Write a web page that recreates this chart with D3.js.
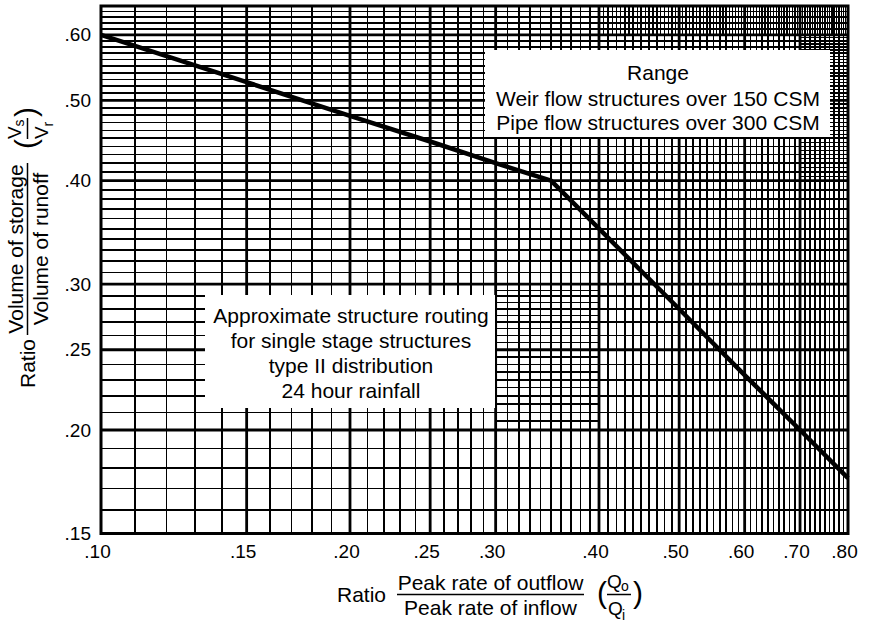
<!DOCTYPE html>
<html><head><meta charset="utf-8">
<script src="https://cdn.jsdelivr.net/npm/d3@7"></script>
<style>html,body{margin:0;padding:0;background:#fff;} svg{display:block;}</style>
</head><body>
<svg id="chart" width="869" height="627"></svg>
<script>
// ---- data ----
const xTickValues = [0.10, 0.15, 0.20, 0.25, 0.30, 0.40, 0.50, 0.60, 0.70, 0.80];
const xTickLabels = [".10", ".15", ".20", ".25", ".30", ".40", ".50", ".60", ".70", ".80"];
const yTickValues = [0.15, 0.20, 0.25, 0.30, 0.40, 0.50, 0.60];
const yTickLabels = [".15", ".20", ".25", ".30", ".40", ".50", ".60"];
const peakRatio = [0.10, 0.15, 0.20, 0.25, 0.30, 0.35, 0.40, 0.50, 0.60, 0.70, 0.80];
const storageRatio = [0.600, 0.526, 0.479, 0.446, 0.420, 0.400, 0.350, 0.280, 0.233, 0.200, 0.175];
const rangeNote = ["Range", "Weir flow structures over 150 CSM", "Pipe flow structures over 300 CSM"];
const routingNote = ["Approximate structure routing", "for single stage structures", "type II distribution", "24 hour rainfall"];
const xMajorGrid = [0.15, 0.20, 0.25, 0.30, 0.40, 0.50, 0.60, 0.70];
const yMajorGrid = [0.20, 0.25, 0.30, 0.40, 0.50, 0.60];

// ---- layout ----
const FONT = "'Liberation Sans', Arial, Helvetica, sans-serif";
const L = 101, R = 848, T = 6, B = 533.5;
const x = d3.scaleLog().domain([0.10, 0.80]).range([L, R]);
const y = d3.scaleLog().domain([0.15, 0.65]).range([B, T]);

const svg = d3.select("#chart");
svg.append("rect").attr("width", 869).attr("height", 627).attr("fill", "#fff");

const grid = svg.append("g").attr("stroke", "#000").attr("shape-rendering", "crispEdges");
const r3 = v => Math.round(v * 1000) / 1000;
const xMinor = d3.range(11, 80).map(i => r3(i / 100));
const yMinor = d3.range(16, 65).map(i => r3(i / 100));
const halfSteps = (a, b) => d3.range(Math.round(a * 200) + 1, Math.round(b * 200), 2).map(i => r3(i / 200));

// minor vertical lines
grid.selectAll("line.vx").data(xMinor).join("line")
  .attr("x1", d => x(d)).attr("x2", d => x(d)).attr("y1", T).attr("y2", B)
  .attr("stroke-width", 1.7);
// minor horizontal lines
grid.selectAll("line.hy").data(yMinor).join("line")
  .attr("x1", L).attr("x2", R).attr("y1", d => y(d)).attr("y2", d => y(d))
  .attr("stroke-width", 1.7);
// finer half-step lines in some blocks of the paper
const fineV = [{x0: 0.40, x1: 0.80, y0: 0.60, y1: 0.65}];
const fineH = [{x0: 0.30, x1: 0.40, y0: 0.20, y1: 0.30}, {x0: 0.70, x1: 0.80, y0: 0.40, y1: 0.60}];
fineV.forEach(b => {
  grid.append("g").selectAll("line").data(halfSteps(b.x0, b.x1)).join("line")
    .attr("x1", d => x(d)).attr("x2", d => x(d)).attr("y1", y(b.y1)).attr("y2", y(b.y0))
    .attr("stroke-width", 1.3);
});
fineH.forEach(b => {
  grid.append("g").selectAll("line").data(halfSteps(b.y0, b.y1)).join("line")
    .attr("x1", x(b.x0)).attr("x2", x(b.x1)).attr("y1", d => y(d)).attr("y2", d => y(d))
    .attr("stroke-width", 1.3);
});
// major lines
const major = svg.append("g").attr("stroke", "#000");
major.selectAll("line.mx").data(xMajorGrid).join("line")
  .attr("x1", d => x(d)).attr("x2", d => x(d)).attr("y1", T).attr("y2", B)
  .attr("stroke-width", 2.8);
major.selectAll("line.my").data(yMajorGrid).join("line")
  .attr("x1", L).attr("x2", R).attr("y1", d => y(d)).attr("y2", d => y(d))
  .attr("stroke-width", 2.8);
// frame
svg.append("rect").attr("x", L).attr("y", T).attr("width", R - L).attr("height", B - T)
  .attr("fill", "none").attr("stroke", "#000").attr("stroke-width", 3);

// curve
const pts = peakRatio.map((v, i) => [v, storageRatio[i]]);
svg.append("path").datum(pts)
  .attr("d", d3.line().x(d => x(d[0])).y(d => y(d[1])))
  .attr("fill", "none").attr("stroke", "#000").attr("stroke-width", 4.5)
  .attr("stroke-linejoin", "round");

// note boxes
svg.append("rect").attr("x", 485).attr("y", 50).attr("width", 345).attr("height", 87).attr("fill", "#fff");
svg.append("rect").attr("x", 205).attr("y", 295).attr("width", 290).attr("height", 113).attr("fill", "#fff");
const txt = svg.append("g").attr("font-family", FONT).attr("fill", "#000");
const rangeBase = [80, 105.5, 130];
txt.selectAll("text.rn").data(rangeNote).join("text")
  .attr("x", 658).attr("y", (d, i) => rangeBase[i]).attr("text-anchor", "middle")
  .attr("font-size", 21).text(d => d);
txt.selectAll("text.rt").data(routingNote).join("text")
  .attr("x", 351).attr("y", (d, i) => 323.3 + i * 25).attr("text-anchor", "middle")
  .attr("font-size", 21).text(d => d);

// axes
const xAxis = svg.append("g").attr("transform", `translate(0,${B})`)
  .call(d3.axisBottom(x).tickValues(xTickValues).tickFormat((d, i) => xTickLabels[i]).tickSize(0).tickPadding(11));
xAxis.select(".domain").remove();
xAxis.selectAll("text").attr("font-family", FONT).attr("font-size", 19).attr("fill", "#000").attr("dx", -4);
const yAxis = svg.append("g").attr("transform", `translate(${L},0)`)
  .call(d3.axisLeft(y).tickValues(yTickValues).tickFormat((d, i) => yTickLabels[i]).tickSize(0).tickPadding(10));
yAxis.select(".domain").remove();
yAxis.selectAll("text").attr("font-family", FONT).attr("font-size", 19).attr("fill", "#000");

// x title
const xt = svg.append("g").attr("font-family", FONT).attr("fill", "#000");
const xb = 594.5;
xt.append("text").attr("x", 337).attr("y", xb + 7.5).attr("font-size", 21).text("Ratio");
xt.append("text").attr("x", 490.5).attr("y", xb - 4.5).attr("text-anchor", "middle").attr("font-size", 21).text("Peak rate of outflow");
xt.append("line").attr("x1", 397).attr("x2", 584).attr("y1", xb).attr("y2", xb).attr("stroke", "#000").attr("stroke-width", 1.5);
xt.append("text").attr("x", 490.5).attr("y", xb + 20.5).attr("text-anchor", "middle").attr("font-size", 21).text("Peak rate of inflow");
xt.append("text").attr("x", 597).attr("y", xb + 8.5).attr("font-size", 30).text("(");
xt.append("text").attr("x", 607).attr("y", xb - 6.5).attr("font-size", 19).text("Q");
xt.append("text").attr("x", 621).attr("y", xb - 3.5).attr("font-size", 14).text("o");
xt.append("line").attr("x1", 607).attr("x2", 631).attr("y1", xb).attr("y2", xb).attr("stroke", "#000").attr("stroke-width", 1.5);
xt.append("text").attr("x", 608).attr("y", xb + 20.5).attr("font-size", 19).text("Q");
xt.append("text").attr("x", 622).attr("y", xb + 25.5).attr("font-size", 14).text("i");
xt.append("text").attr("x", 633).attr("y", xb + 8.5).attr("font-size", 30).text(")");

// y title (rotated)
const yt = svg.append("g").attr("font-family", FONT).attr("fill", "#000")
  .attr("transform", "translate(27.5,0) rotate(-90)");
yt.append("text").attr("x", -388).attr("y", 7.5).attr("font-size", 21).text("Ratio");
yt.append("text").attr("x", -249).attr("y", -4.5).attr("text-anchor", "middle").attr("font-size", 21).text("Volume of storage");
yt.append("line").attr("x1", -335).attr("x2", -163).attr("y1", 0).attr("y2", 0).attr("stroke", "#000").attr("stroke-width", 1.5);
yt.append("text").attr("x", -249).attr("y", 20.5).attr("text-anchor", "middle").attr("font-size", 21).text("Volume of runoff");
yt.append("text").attr("x", -149).attr("y", 8.5).attr("font-size", 30).text("(");
yt.append("text").attr("x", -139).attr("y", -6.5).attr("font-size", 19).text("V");
yt.append("text").attr("x", -126.5).attr("y", -3.5).attr("font-size", 14).text("s");
yt.append("line").attr("x1", -139).attr("x2", -118).attr("y1", 0).attr("y2", 0).attr("stroke", "#000").attr("stroke-width", 1.5);
yt.append("text").attr("x", -139).attr("y", 20.5).attr("font-size", 19).text("V");
yt.append("text").attr("x", -126.5).attr("y", 25.5).attr("font-size", 14).text("r");
yt.append("text").attr("x", -117).attr("y", 8.5).attr("font-size", 30).text(")");
</script>
</body></html>
